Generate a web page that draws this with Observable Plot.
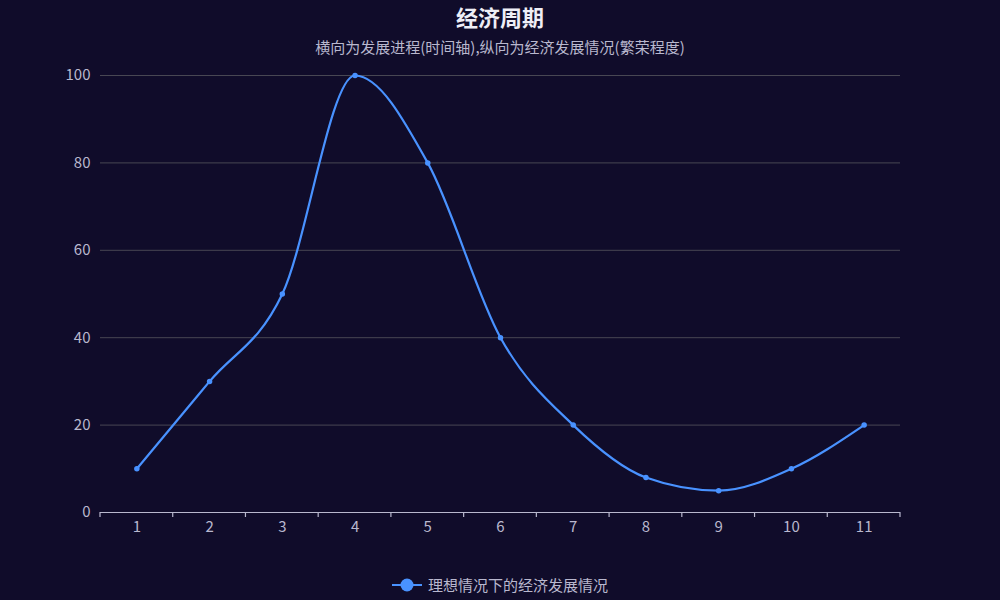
<!DOCTYPE html>
<html><head><meta charset="utf-8">
<script src="https://cdn.jsdelivr.net/npm/d3@7"></script>
<script src="https://cdn.jsdelivr.net/npm/@observablehq/plot@0.6"></script>
<style>
html,body{margin:0;padding:0;background:#100c2a;}
#wrap{position:relative;width:1000px;height:600px;background:#100c2a;font-family:"Noto Sans CJK SC","Noto Sans",sans-serif;overflow:hidden;}
#title{position:absolute;left:0;width:1000px;top:3px;text-align:center;color:#eeeef6;font-size:22px;font-weight:bold;line-height:26px;}
#sub{position:absolute;left:0;width:1000px;top:37px;text-align:center;color:#b9b8ce;font-size:15px;line-height:20px;}
#chart{position:absolute;left:0;top:60px;}
#legend{position:absolute;left:0;width:1000px;top:574px;display:flex;justify-content:center;align-items:center;color:#b9b8ce;font-size:15px;}
#legend svg{margin-right:6px;}
</style></head>
<body><div id="wrap">
<div id="title">经济周期</div>
<div id="sub">横向为发展进程(时间轴),纵向为经济发展情况(繁荣程度)</div>
<div id="chart"></div>
<div id="legend"><svg width="30" height="16"><line x1="0" y1="8" x2="30" y2="8" stroke="#4992ff" stroke-width="2"/><circle cx="15" cy="8" r="6.5" fill="#4992ff"/></svg><span>理想情况下的经济发展情况</span></div>
</div>
<script>
const categories = [1,2,3,4,5,6,7,8,9,10,11];
const values = [10,30,50,100,80,40,20,8,5,10,20];
const yTicks = [0,20,40,60,80,100];
const seriesName = "理想情况下的经济发展情况";

const data = categories.map((c,i)=>({x:c, y:values[i]}));
const boundaries = d3.range(categories.length+1).map(i=>categories[0]-0.5+i);
const color = "#4992ff";

const chart = Plot.plot({
  width:1000, height:490,
  marginLeft:100, marginRight:100, marginTop:15, marginBottom:38,
  style:{background:"transparent", color:"#b9b8ce", fontSize:"15px", fontFamily:"'Noto Sans CJK SC','Noto Sans',sans-serif"},
  x:{type:"linear", domain:[categories[0]-0.5, categories[categories.length-1]+0.5]},
  y:{domain:[0,100]},
  marks:[
    Plot.ruleY(yTicks.filter(d=>d>0), {stroke:"#484753", strokeWidth:1, strokeOpacity:1}),
    Plot.axisY({ticks:yTicks, tickSize:0, tickPadding:10, label:null, fill:"#b9b8ce"}),
    Plot.axisX({ticks:categories, tickSize:0, tickPadding:9, label:null, fill:"#b9b8ce", tickFormat:d=>String(d)}),
    Plot.ruleY([0], {stroke:"#b9b8ce", strokeWidth:1.2}),
    Plot.tickX(boundaries, {x:d=>d, stroke:"#b9b8ce", render:(i,s)=>{
      const g = d3.create("svg:g");
      const y0 = s.y(0);
      for (const b of boundaries) g.append("line").attr("x1",s.x(b)).attr("x2",s.x(b)).attr("y1",y0).attr("y2",y0+5).attr("stroke","#b9b8ce").attr("stroke-width",1.2);
      return g.node();
    }}),
    Plot.line(data, {x:"x", y:"y", stroke:color, strokeWidth:2.2, curve:"monotone-x"}),
    Plot.dot(data, {x:"x", y:"y", r:2, fill:color, stroke:color})
  ]
});
d3.select(chart).selectAll("g[aria-label$='tick label']").attr("font-size", 15).style("font-size","15px");
d3.select(chart).selectAll("text").style("font-size","15px");
document.getElementById("chart").appendChild(chart);
</script>
</body></html>
